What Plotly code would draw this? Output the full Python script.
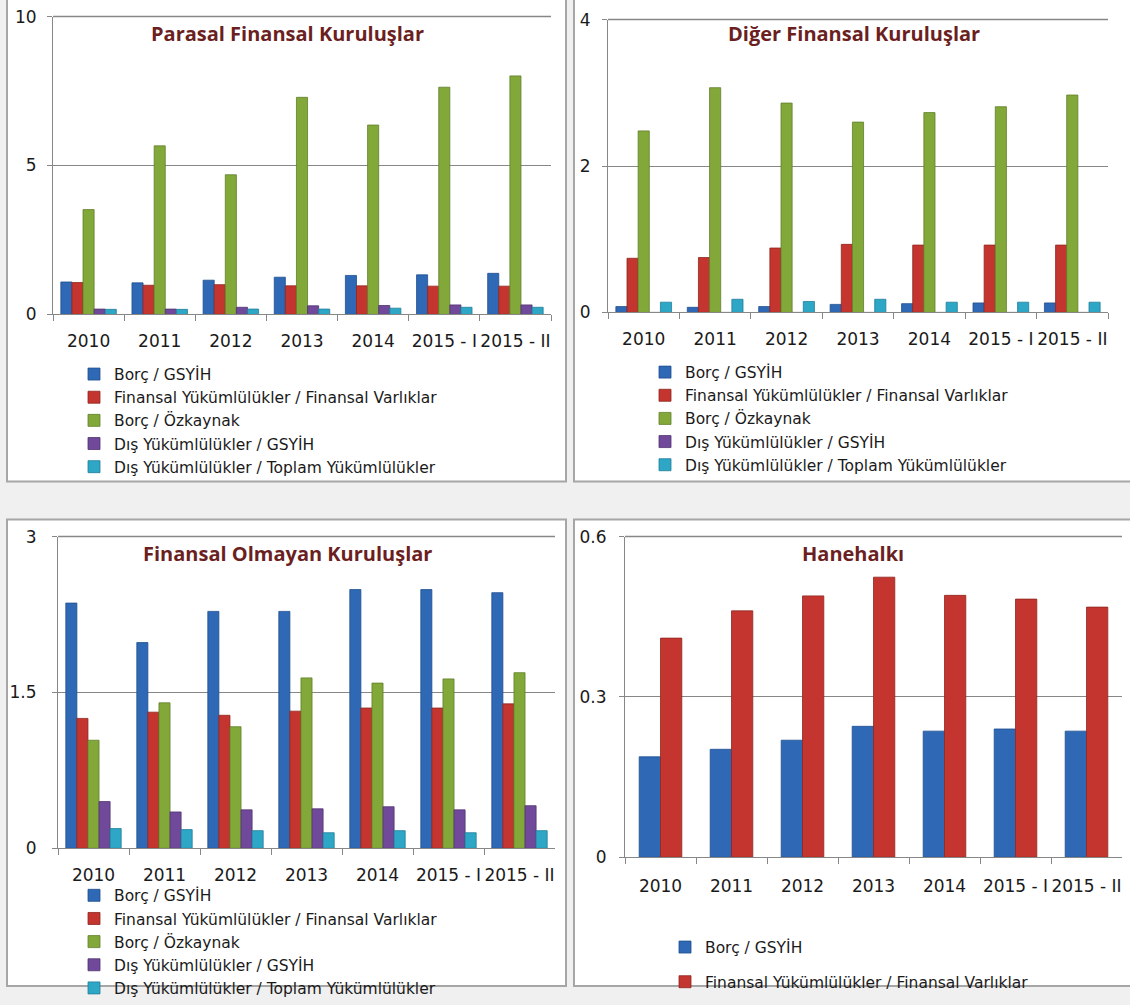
import plotly.graph_objects as go

W, H = 1130, 1005

categories = ["2010", "2011", "2012", "2013", "2014", "2015 - I", "2015 - II"]
series_names = [
    "Borç / GSYİH",
    "Finansal Yükümlülükler / Finansal Varlıklar",
    "Borç / Özkaynak",
    "Dış Yükümlülükler / GSYİH",
    "Dış Yükümlülükler / Toplam Yükümlülükler",
]
colors = ["#2f68b4", "#c3352e", "#83a83a", "#70499a", "#2ea6c6"]
line_colors = ["#1f4f8f", "#8f2620", "#5f7f28", "#503370", "#1f7f99"]

# Parasal Finansal Kuruluşlar
pfk_borc_gsyih = [1.09, 1.06, 1.15, 1.25, 1.31, 1.33, 1.38]
pfk_fy_fv = [1.07, 0.98, 1.00, 0.96, 0.96, 0.95, 0.95]
pfk_borc_ozk = [3.52, 5.66, 4.69, 7.29, 6.36, 7.63, 8.01]
pfk_dy_gsyih = [0.18, 0.18, 0.24, 0.29, 0.30, 0.32, 0.32]
pfk_dy_ty = [0.17, 0.17, 0.18, 0.18, 0.21, 0.24, 0.24]

# Diğer Finansal Kuruluşlar
dfk_borc_gsyih = [0.08, 0.07, 0.08, 0.11, 0.12, 0.13, 0.13]
dfk_fy_fv = [0.74, 0.75, 0.88, 0.93, 0.92, 0.92, 0.92]
dfk_borc_ozk = [2.48, 3.07, 2.86, 2.60, 2.73, 2.81, 2.97]
dfk_dy_gsyih = [0, 0, 0, 0, 0, 0, 0]
dfk_dy_ty = [0.14, 0.18, 0.15, 0.18, 0.14, 0.14, 0.14]

# Finansal Olmayan Kuruluşlar
fok_borc_gsyih = [2.36, 1.98, 2.28, 2.28, 2.49, 2.49, 2.46]
fok_fy_fv = [1.25, 1.31, 1.28, 1.32, 1.35, 1.35, 1.39]
fok_borc_ozk = [1.04, 1.40, 1.17, 1.64, 1.59, 1.63, 1.69]
fok_dy_gsyih = [0.45, 0.35, 0.37, 0.38, 0.40, 0.37, 0.41]
fok_dy_ty = [0.19, 0.18, 0.17, 0.15, 0.17, 0.15, 0.17]

# Hanehalkı
hh_borc_gsyih = [0.188, 0.202, 0.219, 0.245, 0.236, 0.240, 0.236]
hh_fy_fv = [0.410, 0.461, 0.489, 0.524, 0.490, 0.483, 0.468]

titles = ["Parasal Finansal Kuruluşlar", "Diğer Finansal Kuruluşlar",
          "Finansal Olmayan Kuruluşlar", "Hanehalkı"]
y_ticks = [[0, 5, 10], [0, 2, 4], [0, 1.5, 3], [0, 0.3, 0.6]]
y_ticktext = [["0", "5", "10"], ["0", "2", "4"], ["0", "1.5", "3"], ["0", "0.3", "0.6"]]

TITLE_FONT = "'Open Sans', sans-serif"
TEXT_FONT = "'DejaVu Sans', sans-serif"
LEG_SIZE = 15.5

def cal(v):
    # vertical calibration of the target position
    return (v - 10.35) / 0.98

def fx(v):
    return v / W

def fy(v):
    return 1 - cal(v) / H

def fy_raw(v):
    return 1 - v / H

# plot areas: (x0, x1, ytop, ybottom)
areas = [(53, 551, 17, 316), (608, 1108, 20, 314), (58, 555, 539, 852), (625, 1122, 539, 861)]
panels = [(7, 566, -5, 483), (574, 1140, -5, 483), (7, 566, 522, 1000), (574, 1140, 522, 1000)]
title_pos = [(287, 34), (854, 34), (287, 556), (853, 556)]
legend_pos = [(74, 356), (645, 354), (74, 890), (665, 943)]
ystandoff = [7, 8, 12, 9]
xstandoff = [11, 11, 11, 13]

fig = go.Figure()

panel_data = [
    [pfk_borc_gsyih, pfk_fy_fv, pfk_borc_ozk, pfk_dy_gsyih, pfk_dy_ty],
    [dfk_borc_gsyih, dfk_fy_fv, dfk_borc_ozk, dfk_dy_gsyih, dfk_dy_ty],
    [fok_borc_gsyih, fok_fy_fv, fok_borc_ozk, fok_dy_gsyih, fok_dy_ty],
    [hh_borc_gsyih, hh_fy_fv],
]

for p, data in enumerate(panel_data):
    ax = "" if p == 0 else str(p + 1)
    leg = "legend" if p == 0 else f"legend{p + 1}"
    for i, vals in enumerate(data):
        kw = {}
        if p == 3:
            kw = dict(width=0.30, offset=-0.30 + 0.30 * i)
        fig.add_trace(go.Bar(
            x=categories, y=vals, name=series_names[i],
            marker=dict(color=colors[i], line=dict(color=line_colors[i], width=0.8)),
            xaxis="x" + ax, yaxis="y" + ax, legend=leg,
            legendgroup=f"g{p}_{i}", showlegend=True, **kw,
        ))

layout = dict(
    width=W, height=H,
    margin=dict(l=0, r=0, t=0, b=0),
    paper_bgcolor="#f0f0f0",
    plot_bgcolor="#ece9e0",
    barmode="group", bargap=0.22, bargroupgap=0,
    font=dict(family=TEXT_FONT, size=16, color="#1a1a1a"),
    showlegend=True,
)

shapes = []
annotations = []
for p in range(4):
    ax = "" if p == 0 else str(p + 1)
    x0, x1, yt, yb = areas[p]
    layout["xaxis" + ax] = dict(
        domain=[fx(x0), fx(x1)], anchor="y" + ax,
        type="category", showline=True, linecolor="#878787", linewidth=1,
        ticks="outside", tickson="boundaries", ticklen=6,
        tickcolor="#878787", showgrid=False, tickangle=0,
        tickfont=dict(size=17, family=TEXT_FONT), ticklabelstandoff=xstandoff[p], fixedrange=True,
    )
    layout["yaxis" + ax] = dict(
        domain=[fy(yb), min(1.0, fy(yt))], anchor="x" + ax,
        range=[0, y_ticks[p][-1]], tickvals=y_ticks[p], ticktext=y_ticktext[p],
        showline=True, linecolor="#878787", linewidth=1,
        ticks="outside", ticklen=5, tickcolor="#878787",
        showgrid=True, gridcolor="#878787", gridwidth=1, zeroline=False,
        tickfont=dict(size=17, family=TEXT_FONT), ticklabelstandoff=ystandoff[p], fixedrange=True,
    )
    shapes.append(dict(type="line", xref="paper", yref="paper",
                       x0=fx(x0), x1=fx(x1), y0=fy(yt), y1=fy(yt),
                       line=dict(color="#878787", width=1.5), layer="above"))
    px0, px1, pyt, pyb = panels[p]
    shapes.append(dict(type="rect", xref="paper", yref="paper",
                       x0=fx(px0), x1=fx(px1), y0=fy_raw(pyb), y1=fy(pyt),
                       fillcolor="white", line=dict(color="#a6a6a6", width=2), layer="below"))
    tx, ty = title_pos[p]
    annotations.append(dict(
        text=f"<b>{titles[p]}</b>", xref="paper", yref="paper",
        x=fx(tx), y=fy(ty), xanchor="center", yanchor="middle",
        showarrow=False, font=dict(family=TITLE_FONT, size=20, color="#6b1f1f"),
    ))
    leg = "legend" if p == 0 else f"legend{p + 1}"
    lx, ly = legend_pos[p]
    layout[leg] = dict(
        x=fx(lx), y=fy_raw(ly), xanchor="left", yanchor="top",
        bgcolor="rgba(0,0,0,0)", font=dict(family=TEXT_FONT, size=LEG_SIZE, color="#1a1a1a"),
        tracegroupgap=(11.5 if p == 3 else 0), itemwidth=30,
        traceorder=("grouped" if p == 3 else "normal"),
    )

layout["shapes"] = shapes
layout["annotations"] = annotations
fig.update_layout(**layout)

fig.write_html(
    "out.html",
    config={"displayModeBar": False},
    post_script="document.body.style.margin='0px';document.body.style.overflow='hidden';",
)
